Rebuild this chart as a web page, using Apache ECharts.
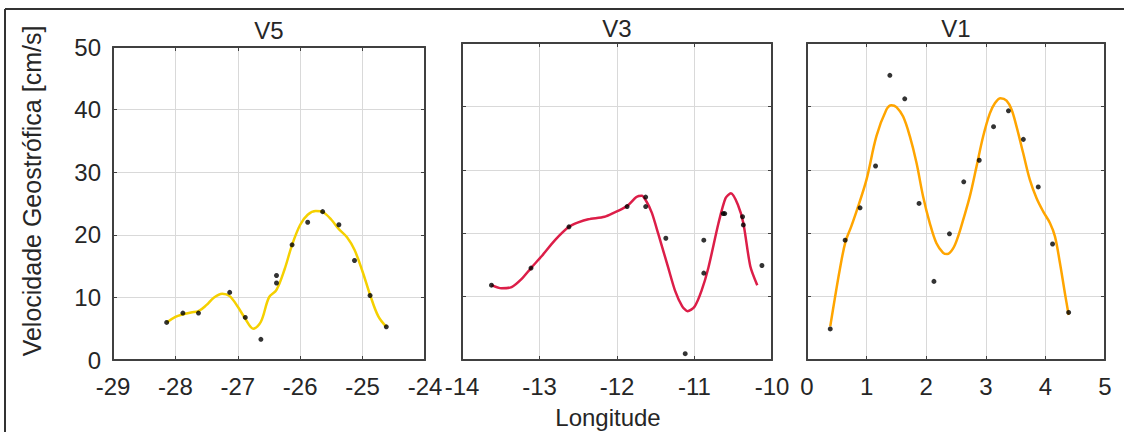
<!DOCTYPE html>
<html>
<head>
<meta charset="utf-8">
<script src="https://cdn.jsdelivr.net/npm/echarts@6/dist/echarts.min.js"></script>
<style>
html,body{margin:0;padding:0;background:#fff;}
#chart{width:1124px;height:432px;}
</style>
</head>
<body>
<div id="chart"></div>
<script>
// ---- data ----
const panelTitles = ['V5', 'V3', 'V1'];
const yTicks = [0, 10, 20, 30, 40, 50];
const xRanges = [[-29, -24], [-14, -10], [0, 5]];

const v5Lon = [-28.14, -27.88, -27.63, -27.13, -26.88, -26.63, -26.38, -26.38, -26.13, -25.88, -25.64, -25.38, -25.13, -24.88, -24.62];
const v5Vel = [6.0, 7.5, 7.5, 10.8, 6.8, 3.3, 13.5, 12.3, 18.4, 22.0, 23.7, 21.6, 15.9, 10.3, 5.3];
const v5FitLon = [-28.14, -28.0, -27.88, -27.75, -27.63, -27.5, -27.38, -27.25, -27.13, -27.0, -26.88, -26.75, -26.63, -26.5, -26.38, -26.25, -26.13, -26.0, -25.88, -25.75, -25.63, -25.5, -25.38, -25.25, -25.13, -25.0, -24.88, -24.75, -24.62];
const v5FitVel = [6.0, 6.9, 7.3, 7.6, 7.8, 8.8, 10.0, 10.6, 10.2, 8.5, 6.6, 5.0, 6.1, 10.0, 11.2, 14.5, 18.4, 21.6, 23.2, 23.8, 23.6, 22.4, 20.9, 19.6, 17.6, 14.1, 10.4, 7.0, 5.3];

const v3Lon = [-13.62, -13.11, -12.62, -11.87, -11.63, -11.63, -11.37, -11.12, -10.88, -10.88, -10.63, -10.61, -10.38, -10.37, -10.13];
const v3Vel = [11.8, 14.5, 21.0, 24.2, 25.7, 24.2, 19.2, 1.0, 18.9, 13.7, 23.1, 23.1, 22.6, 21.3, 14.9];
const v3FitLon = [-13.62, -13.49, -13.36, -13.23, -13.11, -12.97, -12.80, -12.62, -12.50, -12.37, -12.16, -12.03, -11.94, -11.85, -11.75, -11.68, -11.62, -11.55, -11.47, -11.34, -11.25, -11.16, -11.09, -11.00, -10.91, -10.82, -10.69, -10.60, -10.53, -10.44, -10.37, -10.28, -10.19];
const v3FitVel = [11.8, 11.3, 11.5, 12.8, 14.5, 16.4, 18.9, 21.0, 21.7, 22.2, 22.6, 23.3, 23.8, 24.5, 25.7, 25.9, 25.0, 23.2, 20.0, 14.6, 10.9, 8.5, 7.7, 8.4, 10.9, 14.6, 21.6, 25.5, 26.3, 24.5, 21.6, 14.8, 11.8];

const v1Lon = [0.39, 0.64, 0.89, 1.15, 1.39, 1.64, 1.88, 2.13, 2.39, 2.63, 2.89, 3.13, 3.38, 3.63, 3.88, 4.12, 4.39];
const v1Vel = [4.9, 18.9, 24.0, 30.6, 44.9, 41.2, 24.7, 12.4, 19.9, 28.1, 31.5, 36.8, 39.3, 34.8, 27.3, 18.3, 7.5];
const v1FitLon = [0.39, 0.465, 0.549, 0.644, 0.74, 0.829, 0.997, 1.165, 1.333, 1.417, 1.501, 1.613, 1.725, 1.837, 1.948, 2.06, 2.172, 2.284, 2.352, 2.452, 2.536, 2.62, 2.732, 2.844, 2.956, 3.068, 3.152, 3.247, 3.348, 3.432, 3.516, 3.628, 3.74, 3.852, 3.964, 4.076, 4.16, 4.244, 4.328, 4.39];
const v1FitVel = [5.3, 9.6, 14.2, 18.6, 21.0, 23.4, 28.4, 35.3, 39.5, 40.2, 39.9, 38.4, 35.3, 31.1, 25.8, 21.6, 18.4, 16.9, 16.7, 17.6, 19.5, 22.1, 25.8, 30.5, 35.3, 38.9, 40.5, 41.3, 40.9, 39.5, 36.8, 32.6, 28.4, 25.5, 23.4, 21.6, 19.5, 15.3, 10.5, 7.1];

const yLabel = 'Velocidade Geostrófica [cm/s]';
const xLabel = 'Longitude';

// ---- layout / style ----
const FONT = "'Liberation Sans', Arial, sans-serif";
const TXT = '#262626';
const BOX = '#404040';
const fitColors = ['#F5D000', '#DC1E48', '#FFA500'];
const grids = [
  {left: 113, top: 47, width: 312, height: 313},
  {left: 462, top: 43, width: 310, height: 317},
  {left: 807, top: 43, width: 298, height: 317}
];

const zip = (a, b) => a.map((v, i) => [v, b[i]]);
const pts = [zip(v5Lon, v5Vel), zip(v3Lon, v3Vel), zip(v1Lon, v1Vel)];
const fits = [zip(v5FitLon, v5FitVel), zip(v3FitLon, v3FitVel), zip(v1FitLon, v1FitVel)];
const smooths = [0.35, 0.25, 0.35];

const xAxis = [], yAxis = [], series = [], title = [];
grids.forEach((g, k) => {
  const base = {
    type: 'value', gridIndex: k, min: xRanges[k][0], max: xRanges[k][1], interval: 1,
    axisLine: {show: true, onZero: false, lineStyle: {color: BOX, width: 2}},
    axisTick: {show: true, inside: true, length: 4, lineStyle: {color: BOX, width: 1}}
  };
  xAxis.push(Object.assign({}, base, {
    position: 'bottom',
    axisLabel: {show: true, fontFamily: FONT, fontSize: 24, color: TXT, margin: 14, showMinLabel: true, showMaxLabel: true},
    splitLine: {show: true, lineStyle: {color: '#d9d9d9', width: 1}}
  }));
  xAxis.push(Object.assign({}, base, {
    position: 'top', axisLabel: {show: false}, splitLine: {show: false}
  }));
  const ybase = {
    type: 'value', gridIndex: k, min: 0, max: 50, interval: 10,
    axisLine: {show: true, onZero: false, lineStyle: {color: BOX, width: 2}},
    axisTick: {show: true, inside: true, length: 4, lineStyle: {color: BOX, width: 1}}
  };
  yAxis.push(Object.assign({}, ybase, {
    position: 'left',
    axisLabel: {show: k === 0, fontFamily: FONT, fontSize: 24, color: TXT, margin: 12,
      formatter: v => yTicks.includes(v) ? String(v) : ''},
    splitLine: {show: true, lineStyle: {color: '#d9d9d9', width: 1}}
  }));
  yAxis.push(Object.assign({}, ybase, {
    position: 'right', axisLabel: {show: false}, splitLine: {show: false}
  }));
  series.push({
    type: 'line', xAxisIndex: 2 * k, yAxisIndex: 2 * k, data: fits[k],
    smooth: smooths[k], showSymbol: false, symbol: 'none',
    lineStyle: {color: fitColors[k], width: 2.5}, z: 3, silent: true
  });
  series.push({
    type: 'scatter', xAxisIndex: 2 * k, yAxisIndex: 2 * k, data: pts[k],
    symbolSize: 5, itemStyle: {color: '#000'}, z: 4, silent: true
  });
  title.push({
    text: panelTitles[k], left: g.left + g.width / 2, top: k === 0 ? 18 : 16, textAlign: 'center', padding: 0,
    textStyle: {fontFamily: FONT, fontSize: 24, fontWeight: 'normal', color: TXT}
  });
});
title.push({
  text: xLabel, left: 608, top: 405, textAlign: 'center', padding: 0,
  textStyle: {fontFamily: FONT, fontSize: 24, fontWeight: 'normal', color: TXT}
});

const chart = echarts.init(document.getElementById('chart'), null, {renderer: 'svg'});
chart.setOption({
  animation: false,
  backgroundColor: '#fff',
  title: title,
  grid: grids,
  xAxis: xAxis,
  yAxis: yAxis,
  series: series,
  graphic: [
    {type: 'line', shape: {x1: 5, y1: 9, x2: 1124, y2: 9}, style: {stroke: '#333', lineWidth: 2}},
    {type: 'line', shape: {x1: 5, y1: 9, x2: 5, y2: 432}, style: {stroke: '#333', lineWidth: 2}},
    {type: 'text', x: 32, y: 191, rotation: Math.PI / 2,
     style: {text: yLabel, font: "25px 'Liberation Sans', Arial, sans-serif", fill: TXT, textAlign: 'center', textVerticalAlign: 'middle'}}
  ]
});
</script>
</body>
</html>
